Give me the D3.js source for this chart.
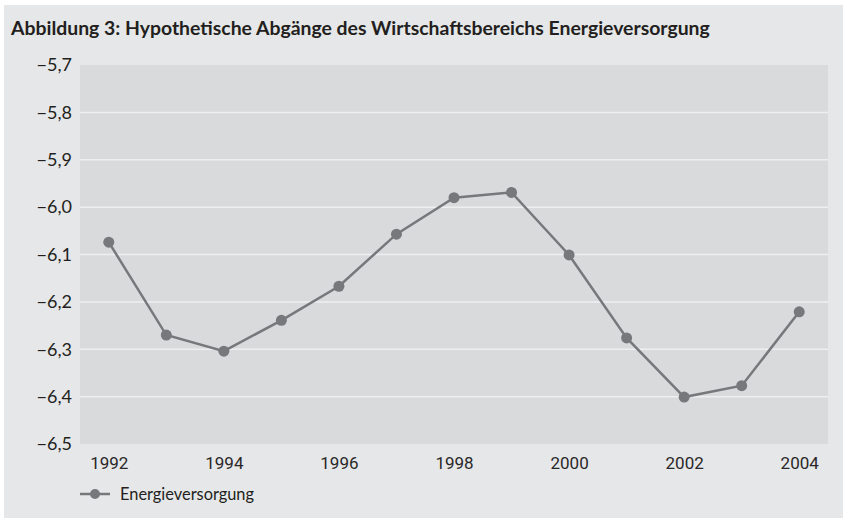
<!DOCTYPE html>
<html>
<head>
<meta charset="utf-8">
<script src="https://cdn.jsdelivr.net/npm/d3@7"></script>
<style>
  body { margin: 0; background: #fff; }
  svg { display: block; }
</style>
</head>
<body>
<div id="chart"></div>
<script>
var years = [1992, 1993, 1994, 1995, 1996, 1997, 1998, 1999, 2000, 2001, 2002, 2003, 2004];
var energie = [-6.074, -6.270, -6.304, -6.239, -6.167, -6.057, -5.980, -5.969, -6.101, -6.276, -6.401, -6.377, -6.221];
var yTicks = [-6.5, -6.4, -6.3, -6.2, -6.1, -6.0, -5.9, -5.8, -5.7];
var xTickYears = [1992, 1994, 1996, 1998, 2000, 2002, 2004];
var titleText = "Abbildung 3: Hypothetische Abgänge des Wirtschaftsbereichs Energieversorgung";
var seriesName = "Energieversorgung";

var width = 845,
    height = 521,
    margin = {top: 65, right: 17, bottom: 77, left: 80};

var innerW = width - margin.left - margin.right,
    innerH = height - margin.top - margin.bottom;

var lineColor = "#77787b";

var svg = d3.select("#chart").append("svg")
    .attr("width", width)
    .attr("height", height);

// outer panel
svg.append("rect")
    .attr("x", 4).attr("y", 5)
    .attr("width", 839).attr("height", 513)
    .attr("fill", "#e6e7e8");

svg.append("text")
    .attr("x", 11)
    .attr("y", 35)
    .attr("font-family", "Lato, sans-serif")
    .attr("font-weight", 700)
    .attr("font-size", "19.4px")
    .attr("fill", "#231f20")
    .text(titleText);

var xScale = d3.scalePoint().domain(years).range([0, innerW]).padding(0.5),
    yScale = d3.scaleLinear().domain([-6.5, -5.7]).range([innerH, 0]);

var g = svg.append("g")
    .attr("transform", "translate(" + margin.left + "," + margin.top + ")");

g.append("rect")
    .attr("width", innerW)
    .attr("height", innerH)
    .attr("fill", "#d9dadb");

// grid lines
g.selectAll(".grid")
    .data(yTicks.slice(1, -1))
  .enter().append("line")
    .attr("class", "grid")
    .attr("x1", 0).attr("x2", innerW)
    .attr("y1", function(d) { return yScale(d); })
    .attr("y2", function(d) { return yScale(d); })
    .attr("stroke", "#eeeff0")
    .attr("stroke-width", 1.5);

var fmt = function(d) { return d3.format(".1f")(d).replace("-", "–").replace(".", ","); };

var yAxis = d3.axisLeft(yScale).tickValues(yTicks).tickFormat(fmt).tickSize(0).tickPadding(8);
var xAxis = d3.axisBottom(xScale).tickValues(xTickYears).tickFormat(d3.format("d")).tickSize(0).tickPadding(13);

g.append("g")
    .attr("class", "axis axis--y")
    .call(yAxis)
    .call(function(s) { s.select(".domain").remove(); })
    .selectAll("text")
    .attr("font-family", "Lato, sans-serif")
    .attr("font-size", "18px")
    .attr("fill", "#231f20");

g.append("g")
    .attr("class", "axis axis--x")
    .attr("transform", "translate(0," + innerH + ")")
    .call(xAxis)
    .call(function(s) { s.select(".domain").remove(); })
    .selectAll("text")
    .attr("font-family", "Roboto, sans-serif")
    .attr("font-size", "17px")
    .attr("fill", "#2a2728");

var line = d3.line()
    .x(function(d, i) { return xScale(years[i]); })
    .y(function(d) { return yScale(d); });

g.append("path")
    .datum(energie)
    .attr("d", line)
    .attr("fill", "none")
    .attr("stroke", lineColor)
    .attr("stroke-width", 2.5);

g.selectAll(".dot")
    .data(energie)
  .enter().append("circle")
    .attr("class", "dot")
    .attr("cx", function(d, i) { return xScale(years[i]); })
    .attr("cy", function(d) { return yScale(d); })
    .attr("r", 5.5)
    .attr("fill", lineColor);

// legend
var legend = svg.append("g").attr("transform", "translate(80,494)");
legend.append("line")
    .attr("x1", 0).attr("x2", 30)
    .attr("stroke", lineColor)
    .attr("stroke-width", 2.5);
legend.append("circle")
    .attr("cx", 15).attr("r", 5)
    .attr("fill", lineColor);
legend.append("text")
    .attr("x", 40)
    .attr("y", 5.5)
    .attr("font-family", "Lato, sans-serif")
    .attr("font-size", "16.4px")
    .attr("fill", "#231f20")
    .text(seriesName);
</script>
</body>
</html>
